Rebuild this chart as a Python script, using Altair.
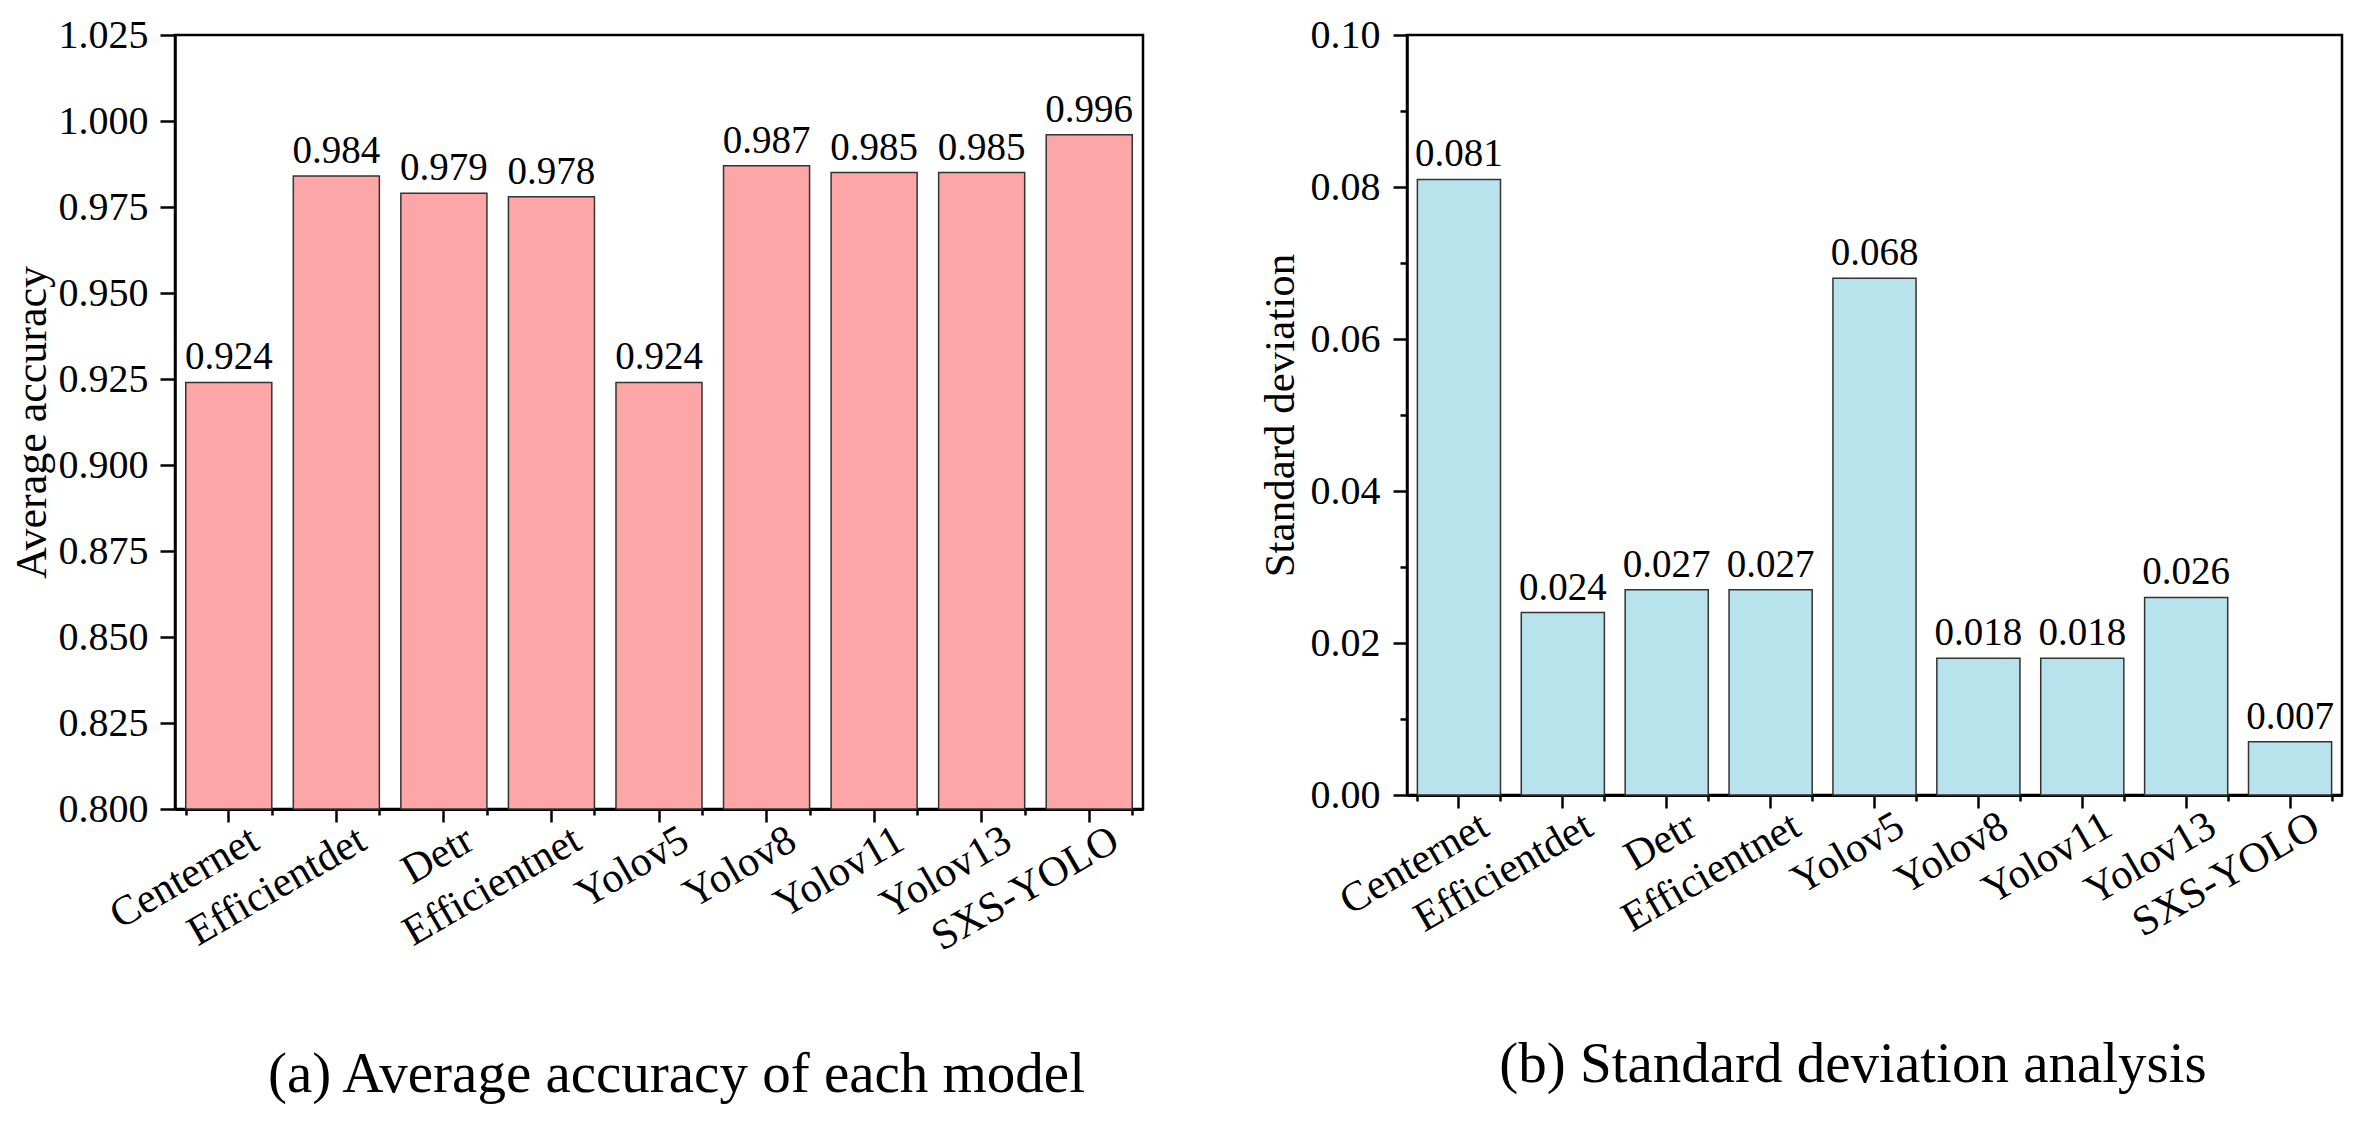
import altair as alt
import pandas as pd

models = ["Centernet", "Efficientdet", "Detr", "Efficientnet", "Yolov5",
          "Yolov8", "Yolov11", "Yolov13", "SXS-YOLO"]
avg_acc = [0.924, 0.984, 0.979, 0.978, 0.924, 0.987, 0.985, 0.985, 0.996]
std_dev = [0.081, 0.024, 0.027, 0.027, 0.068, 0.018, 0.018, 0.026, 0.007]

acc_ticks = [0.800, 0.825, 0.850, 0.875, 0.900, 0.925, 0.950, 0.975, 1.000, 1.025]
std_ticks = [0.00, 0.02, 0.04, 0.06, 0.08, 0.10]
std_minor = [0.01, 0.03, 0.05, 0.07, 0.09]

caption_a = "(a) Average accuracy of each model"
caption_b = "(b) Standard deviation analysis"

df = pd.DataFrame({"model": models, "acc": avg_acc, "std": std_dev})

FONT = "Liberation Serif"
PINK = "#FCA6A7"
BLUE = "#B9E3EC"

xscale = alt.Scale(paddingInner=0.2, paddingOuter=0.1)

W_A, H_A = 968, 774
W_B, H_B = 935, 760


def x_major(caption, pad, tx):
    return alt.X("model:N", sort=models, scale=xscale, title=caption,
                 axis=alt.Axis(orient="bottom", labelAngle=330, labelAlign="right",
                               labelBaseline="middle", labelOffset=26, labelPadding=14,
                               labelLimit=0, tickSize=13, labelFontSize=42,
                               domainWidth=3, titleFontSize=57, titlePadding=pad,
                               titleX=tx, titleBaseline="top"))


def x_minor():
    return alt.X("model:N", sort=models, scale=xscale, title=None,
                 axis=alt.Axis(orient="bottom", tickBand="extent", labels=False,
                               domain=False, tickSize=6))


# ---------- panel (a) ----------
ya = alt.Scale(domain=[0.8, 1.025], nice=False, zero=False)
ya_axis = alt.Axis(orient="left", values=acc_ticks, format=".3f", tickSize=15,
                   labelPadding=12, labelFontSize=40, title="Average accuracy",
                   titleFontSize=44, titlePadding=4)
bars_a = alt.Chart(df).mark_bar(fill=PINK, stroke="#333333", strokeWidth=1.5).encode(
    x=x_major(caption_a, 88, W_A / 2 + 17),
    y=alt.Y("acc:Q", scale=ya, axis=ya_axis),
    y2=alt.datum(0.8),
)
text_a = alt.Chart(df).mark_text(font=FONT, fontSize=39, baseline="alphabetic", dy=-13,
                                 color="black").encode(
    x=x_minor(),
    y=alt.Y("acc:Q", scale=ya, axis=ya_axis),
    text=alt.Text("acc:Q", format=".3f"),
)
panel_a = alt.layer(bars_a, text_a).resolve_axis(x="independent").properties(
    width=W_A, height=H_A,
)

# ---------- panel (b) ----------
yb = alt.Scale(domain=[0, 0.1], nice=False)
bars_b = alt.Chart(df).mark_bar(fill=BLUE, stroke="#333333", strokeWidth=1.5).encode(
    x=x_major(caption_b, 92, W_B / 2 - 22),
    y=alt.Y("std:Q", scale=yb,
            axis=alt.Axis(orient="left", values=std_ticks, format=".2f", tickSize=14,
                          labelPadding=13, labelFontSize=40, title="Standard deviation",
                          titleFontSize=43, titlePadding=8)),
)
text_b = alt.Chart(df).mark_text(font=FONT, fontSize=39, baseline="alphabetic", dy=-13,
                                 color="black").encode(
    x=x_minor(),
    y=alt.Y("std:Q", scale=yb,
            axis=alt.Axis(orient="left", values=std_minor, labels=False, domain=False,
                          tickSize=7, title=None)),
    text=alt.Text("std:Q", format=".3f"),
)
panel_b = alt.layer(bars_b, text_b).resolve_axis(x="independent", y="independent").properties(
    width=W_B, height=H_B,
)

chart = alt.hconcat(panel_a, panel_b, spacing=112).properties(
    padding={"left": 0, "top": 5, "right": 5, "bottom": 5}
).configure(font=FONT).configure_view(
    stroke="black", strokeWidth=2.5
).configure_axis(
    domainColor="black", domainWidth=2.5, tickColor="black", tickWidth=2.5,
    labelColor="black", titleColor="black", labelFont=FONT, titleFont=FONT,
    titleFontWeight="normal", grid=False,
)

chart.save("out.html", embed_options={"renderer": "svg", "actions": False})
